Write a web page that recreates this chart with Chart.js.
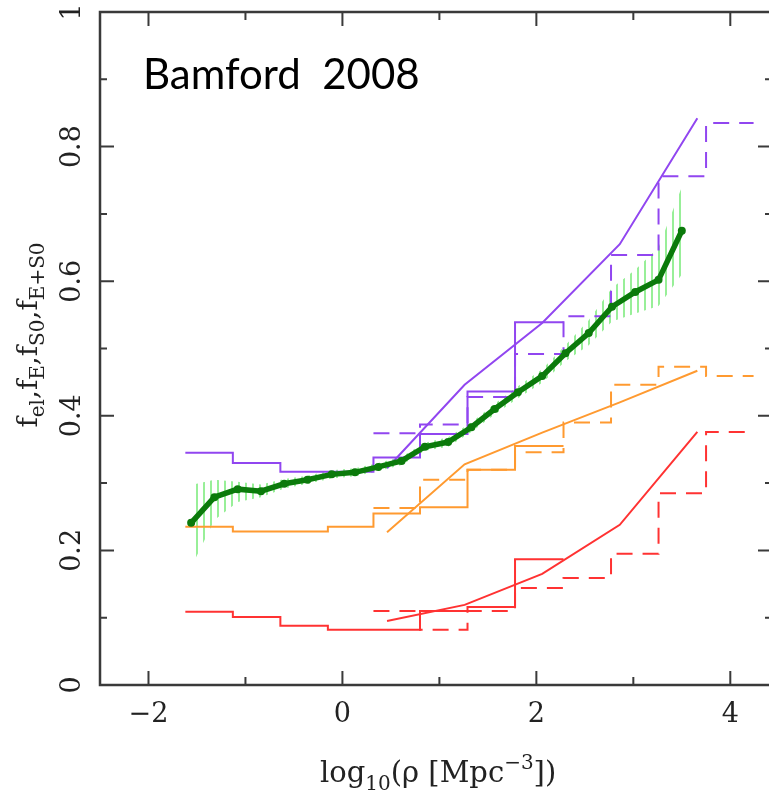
<!DOCTYPE html>
<html lang="en">
<head>
<meta charset="UTF-8">
<title>Bamford 2008 - early-type fraction vs density</title>
<script src="https://cdn.jsdelivr.net/npm/chart.js@4"></script>
<style>
  html, body { margin: 0; padding: 0; background: #fff; overflow: hidden; }
  #chart { display: block; }
</style>
</head>
<body>
<canvas id="chart" width="776" height="794"></canvas>
<script>
// histogram bin edges, log10(rho / Mpc^-3)
const binEdges = [-1.62, -1.13, -0.64, -0.15, 0.32, 0.80, 1.29, 1.78, 2.28, 2.77, 3.26, 3.75, 4.24];

// step histograms (one value per bin, null = no bin)
const purpleSolid  = [0.345, 0.330, 0.317, 0.317, 0.338, 0.373, 0.436, 0.539, null, null, null, null];
const purpleDashed = [null, null, null, null, 0.374, 0.387, 0.428, 0.492, 0.548, 0.639, 0.756, 0.835];
const orangeSolid  = [0.235, 0.228, 0.228, 0.235, 0.255, 0.264, 0.320, 0.355, null, null, null, null];
const orangeDashed = [null, null, null, null, 0.263, 0.305, 0.320, 0.346, 0.390, 0.446, 0.473, 0.459];
const redSolid     = [0.109, 0.101, 0.088, 0.082, 0.082, 0.110, 0.116, 0.187, null, null, null, null];
const redDashed    = [null, null, null, null, 0.110, 0.082, 0.110, 0.144, 0.159, 0.195, 0.285, 0.376];

// thin model lines
const modelX      = [0.46, 1.26, 2.06, 2.86, 3.66];
const purpleModel = [0.322, 0.446, 0.538, 0.655, 0.842];
const orangeModel = [0.227, 0.328, 0.375, 0.420, 0.467];
const redModel    = [0.095, 0.119, 0.165, 0.238, 0.376];

// thick green curve and its hatched error band
const greenX  = [-1.56, -1.32, -1.08, -0.84, -0.60, -0.36, -0.11, 0.13, 0.37, 0.61, 0.85,
                 1.09, 1.33, 1.57, 1.81, 2.06, 2.30, 2.54, 2.78, 3.02, 3.26, 3.50];
const greenY  = [0.241, 0.279, 0.291, 0.288, 0.299, 0.305, 0.313, 0.316, 0.324, 0.333, 0.354,
                 0.361, 0.383, 0.410, 0.435, 0.459, 0.493, 0.523, 0.562, 0.584, 0.602, 0.675];
const bandHi  = [0.297, 0.305, 0.302, 0.298, 0.306, 0.311, 0.319, 0.322, 0.330, 0.339, 0.360,
                 0.368, 0.390, 0.418, 0.444, 0.469, 0.505, 0.542, 0.590, 0.617, 0.650, 0.740];
const bandLo  = [0.175, 0.245, 0.272, 0.279, 0.292, 0.299, 0.307, 0.310, 0.318, 0.327, 0.348,
                 0.354, 0.376, 0.402, 0.426, 0.449, 0.481, 0.505, 0.540, 0.552, 0.563, 0.610];

const PURPLE = '#9146f0';
const ORANGE = '#ff9a30';
const RED = '#ff3232';
const GREEN = '#0b7a0b';
const HATCH = '#98ef98';

function stepPoints(vals) {
    const pts = [];
    let last = -1;
    vals.forEach((v, i) => {
        if (v !== null) { pts.push({x: binEdges[i], y: v}); last = i; }
    });
    pts.push({x: binEdges[last + 1], y: vals[last]});
    return pts;
}
const pairs = (xs, ys) => xs.map((x, i) => ({x: x, y: ys[i]}));

const canvas = document.getElementById('chart');
const ctx = canvas.getContext('2d');

// vertical stripe pattern for the error band
const tile = document.createElement('canvas');
tile.width = 7; tile.height = 8;
const tctx = tile.getContext('2d');
tctx.fillStyle = HATCH;
tctx.fillRect(0, 0, 2, 8);
const hatch = ctx.createPattern(tile, 'repeat');

function stepSet(vals, color, dashed) {
    return {
        data: stepPoints(vals), borderColor: color, borderWidth: 2,
        borderDash: dashed ? [16, 10] : [], stepped: 'before', order: 3
    };
}
function modelSet(ys, color) {
    return { data: pairs(modelX, ys), borderColor: color, borderWidth: 2, order: 2 };
}

const serif = '"DejaVu Serif", serif';

const framePlugin = {
    id: 'frame',
    afterDatasetsDraw(chart) {
        const c = chart.ctx, a = chart.chartArea;
        const xs = chart.scales.x, ys = chart.scales.y;
        c.save();
        c.strokeStyle = '#3a3a3a';
        c.lineWidth = 2;
        c.beginPath();
        xs.ticks.forEach(t => {
            const px = xs.getPixelForValue(t.value);
            const len = t.label ? 14 : 8;
            c.moveTo(px, a.bottom); c.lineTo(px, a.bottom - len);
            c.moveTo(px, a.top); c.lineTo(px, a.top + len);
        });
        ys.ticks.forEach(t => {
            const py = ys.getPixelForValue(t.value);
            const len = t.label ? 14 : 7;
            c.moveTo(a.left, py); c.lineTo(a.left + len, py);
            c.moveTo(a.right, py); c.lineTo(a.right - len, py);
        });
        c.stroke();
        c.lineWidth = 2.5;
        c.strokeRect(a.left, a.top, a.right - a.left, a.bottom - a.top);

        // tick labels
        c.fillStyle = '#222';
        c.font = '27px ' + serif;
        c.textAlign = 'center';
        c.textBaseline = 'alphabetic';
        xs.ticks.forEach(t => {
            if (t.label) c.fillText(t.label, xs.getPixelForValue(t.value), 722);
        });
        ys.ticks.forEach(t => {
            if (!t.label) return;
            c.save();
            c.translate(80, ys.getPixelForValue(t.value));
            c.rotate(-Math.PI / 2);
            c.fillText(t.label, 0, 0);
            c.restore();
        });

        // x title: log10(rho [Mpc^-3])
        const parts = [
            ['log', 29, 0], ['10', 20, 8], ['(\u03c1 [Mpc', 29, 0], ['\u22123', 20, -13], ['])', 29, 0]
        ];
        c.textAlign = 'left';
        let px = 320;
        parts.forEach(p => {
            c.font = p[1] + 'px ' + serif;
            c.fillText(p[0], px, 782 + p[2]);
            px += c.measureText(p[0]).width;
        });

        // y title: f_el, f_E, f_S0, f_E+S0 (rotated)
        const yparts = [
            ['f', 28, 0], ['el', 20, 7], [',', 28, 0],
            ['f', 28, 0], ['E', 20, 7], [',', 28, 0],
            ['f', 28, 0], ['S0', 20, 7], [',', 28, 0],
            ['f', 28, 0], ['E+S0', 20, 7]
        ];
        let total = 0;
        yparts.forEach(p => { c.font = p[1] + 'px ' + serif; total += c.measureText(p[0]).width; });
        c.save();
        c.translate(37, 335 + total / 2);
        c.rotate(-Math.PI / 2);
        let tx = 0;
        yparts.forEach(p => {
            c.font = p[1] + 'px ' + serif;
            c.fillText(p[0], tx, p[2]);
            tx += c.measureText(p[0]).width;
        });
        c.restore();

        // annotation
        c.fillStyle = '#000';
        c.font = '42px Lato, sans-serif';
        c.fillText('Bamford  2008', 143, 89);
        c.restore();
    }
};

new Chart(canvas, {
    type: 'line',
    data: {
        datasets: [
            { data: pairs(greenX, greenY), borderColor: GREEN, backgroundColor: GREEN,
              borderWidth: 5.5, pointRadius: 4, pointBorderWidth: 0, order: 0 },
            modelSet(purpleModel, PURPLE),
            modelSet(orangeModel, ORANGE),
            modelSet(redModel, RED),
            stepSet(purpleSolid, PURPLE, false),
            stepSet(purpleDashed, PURPLE, true),
            stepSet(orangeSolid, ORANGE, false),
            stepSet(orangeDashed, ORANGE, true),
            stepSet(redSolid, RED, false),
            stepSet(redDashed, RED, true),
            { data: pairs(greenX, bandLo), borderColor: 'transparent', borderWidth: 0, fill: false, order: 8 },
            { data: pairs(greenX, bandHi), borderColor: 'transparent', borderWidth: 0,
              fill: '-1', backgroundColor: hatch, order: 8 }
        ]
    },
    options: {
        responsive: false,
        animation: false,
        layout: { padding: { left: 100, top: 12, right: 4, bottom: 109 } },
        elements: { point: { radius: 0 }, line: { tension: 0 } },
        plugins: { legend: { display: false }, tooltip: { enabled: false } },
        scales: {
            x: {
                type: 'linear', min: -2.5, max: 4.43, display: false,
                ticks: {
                    stepSize: 1, includeBounds: false,
                    callback: v => (Math.round(v) % 2 === 0) ? String(v).replace('-', '\u2212') : ''
                }
            },
            y: {
                min: 0, max: 1, display: false,
                ticks: {
                    stepSize: 0.1, includeBounds: false,
                    callback: v => {
                        const k = Math.round(v * 10);
                        if (k % 2) return '';
                        return k === 0 ? '0' : k === 10 ? '1' : (k / 10).toFixed(1);
                    }
                }
            }
        }
    },
    plugins: [framePlugin]
});
</script>
</body>
</html>
